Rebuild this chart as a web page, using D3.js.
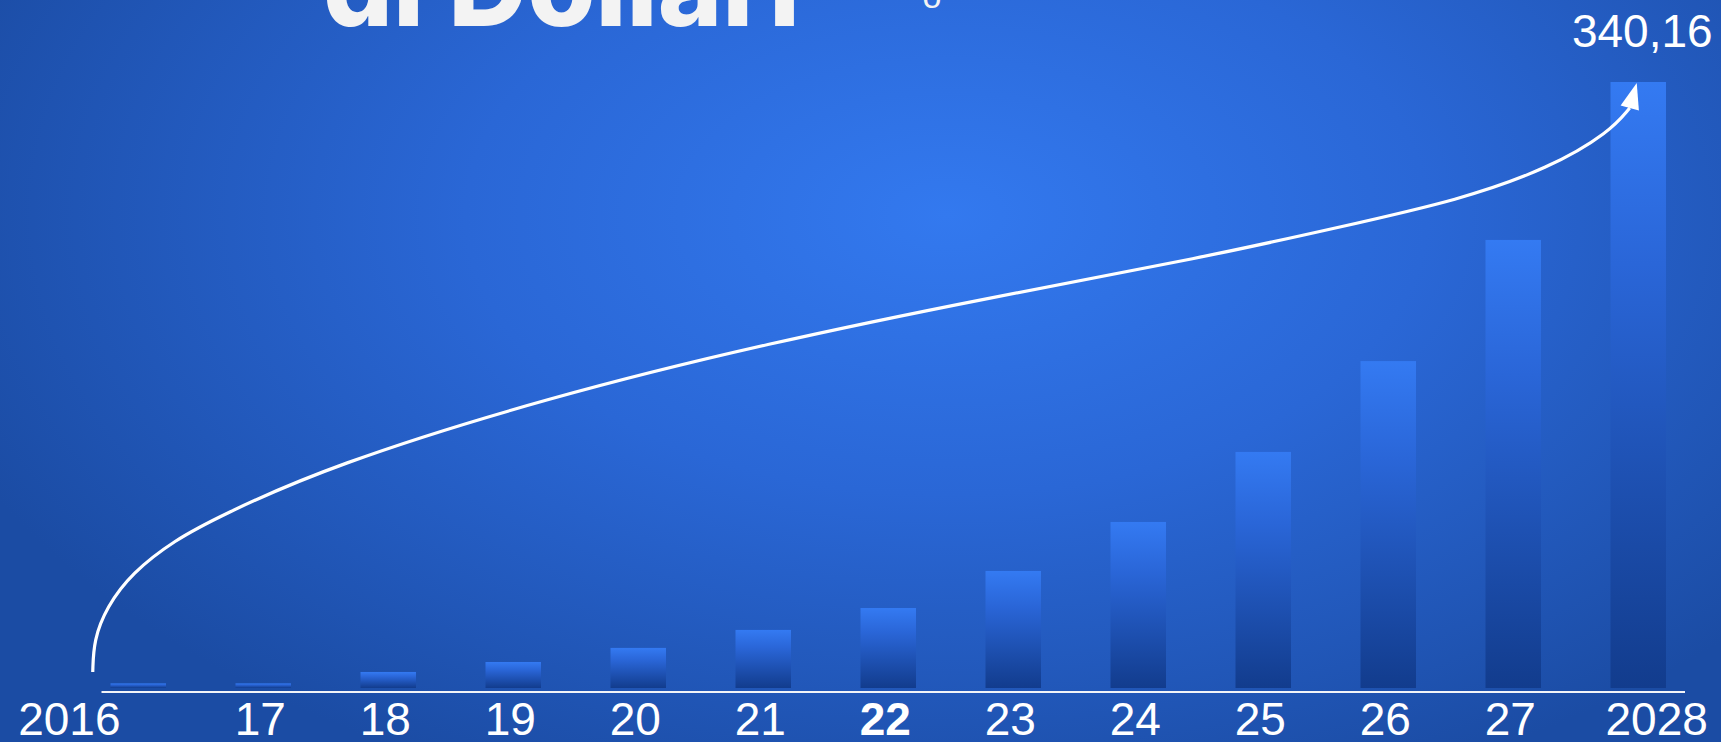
<!DOCTYPE html>
<html>
<head>
<meta charset="utf-8">
<script src="https://cdn.jsdelivr.net/npm/d3@7/dist/d3.min.js"></script>
<style>
  html, body { margin: 0; padding: 0; overflow: hidden; background: #1c4ea6; }
  svg { display: block; }
</style>
</head>
<body>
<svg id="chart" width="1721" height="742"></svg>
<script>
// ---- data ----
const years = [2016, 2017, 2018, 2019, 2020, 2021, 2022, 2023, 2024, 2025, 2026, 2027, 2028];
const values = [2.6, 2.6, 9.0, 14.6, 22.5, 32.6, 44.9, 65.7, 93.2, 132.5, 183.5, 251.5, 340.16];
const tickLabels = ["2016", "17", "18", "19", "20", "21", "22", "23", "24", "25", "26", "27", "2028"];
const boldTick = "22";
const valueLabel = "340,16";
const titleText = "di Dollari";
// decorative growth arrow, in data space [year, value]
const arrowPath = [
  [2015.636, 8.98], [2015.644, 26.94], [2015.748, 45.47], [2015.948, 64.55],
  [2016.292, 83.08], [2016.652, 96.5], [2017.524, 124.6], [2019.284, 163.3],
  [2021.036, 193.6], [2022.796, 219.0], [2024.548, 242.0], [2025.612, 258.77],
  [2026.572, 273.92], [2027.292, 291.89], [2027.772, 312.09], [2027.932, 325.57]
];
const arrowTip = [2027.988, 339.6];

// ---- setup ----
const W = 1721, H = 742;
const svg = d3.select("#chart");
const defs = svg.append("defs");

const bg = defs.append("radialGradient").attr("id", "bg")
  .attr("cx", "0.55").attr("cy", "0.29").attr("r", "0.62")
  .attr("gradientTransform", "translate(0.55,0.29) scale(1,1.35) translate(-0.55,-0.29)");
bg.append("stop").attr("offset", "0").attr("stop-color", "#3379ef");
bg.append("stop").attr("offset", "0.45").attr("stop-color", "#2a67d6");
bg.append("stop").attr("offset", "1").attr("stop-color", "#1b4ca4");

const bar = defs.append("linearGradient").attr("id", "bar")
  .attr("x1", "0").attr("y1", "0").attr("x2", "0").attr("y2", "1");
bar.append("stop").attr("offset", "0").attr("stop-color", "#347af2");
bar.append("stop").attr("offset", "0.3").attr("stop-color", "#2a66d8");
bar.append("stop").attr("offset", "1").attr("stop-color", "#123c8d");

svg.append("rect").attr("width", W).attr("height", H).attr("fill", "url(#bg)");

// title (cut off at the top)
svg.append("text")
  .attr("x", 323).attr("y", 26)
  .attr("textLength", 477).attr("lengthAdjust", "spacingAndGlyphs")
  .attr("font-family", "Inter, 'Open Sans', sans-serif")
  .attr("font-weight", 800).attr("font-size", 112)
  .attr("fill", "#f3f3f3")
  .text(titleText);
svg.append("text")
  .attr("x", 932).attr("y", 8).attr("text-anchor", "middle")
  .attr("font-family", "'Liberation Sans', Arial, sans-serif")
  .attr("font-size", 34).attr("fill", "#f3f3f3")
  .text("o");

// scales
const x = d3.scaleBand().domain(years).range([110.5, 1666]).paddingInner(0.556).paddingOuter(0);
const bw = x.bandwidth();
const xc = d3.scaleLinear().domain([2016, 2028]).range([x(2016) + bw / 2, x(2028) + bw / 2]);
const y = d3.scaleLinear().domain([0, 340.16]).range([688, 82]);

// bars
svg.append("g").selectAll("rect").data(years).join("rect")
  .attr("x", d => x(d))
  .attr("width", bw)
  .attr("y", (d, i) => y(values[i]))
  .attr("height", (d, i) => y(0) - y(values[i]))
  .attr("fill", "url(#bar)");

// baseline
svg.append("line")
  .attr("x1", x(2016) - 9).attr("x2", x(2028) + bw + 19)
  .attr("y1", 692).attr("y2", 692)
  .attr("stroke", "#f2f4f8").attr("stroke-width", 2);

// axis labels
const axis = d3.axisBottom(x).tickSize(0).tickFormat((d, i) => tickLabels[i]);
const ag = svg.append("g").attr("transform", "translate(0,735)").call(axis);
ag.select(".domain").remove();
ag.selectAll("text")
  .attr("y", 0).attr("dy", 0)
  .attr("font-family", "'Liberation Sans', Arial, sans-serif")
  .attr("font-size", 46)
  .attr("fill", "#ffffff")
  .attr("font-weight", (d, i) => tickLabels[i] === boldTick ? "bold" : "normal")
  .attr("x", -3);
ag.selectAll(".tick").filter(d => d === years[0]).select("text")
  .attr("text-anchor", "end").attr("x", -bw / 2 + 10);
ag.selectAll(".tick").filter(d => d === years[years.length - 1]).select("text")
  .attr("text-anchor", "start").attr("x", -bw / 2 - 5);

// value label
svg.append("text")
  .attr("x", xc(2028) + 4).attr("y", 47)
  .attr("text-anchor", "middle")
  .attr("font-family", "'Liberation Sans', Arial, sans-serif")
  .attr("font-size", 46).attr("fill", "#ffffff")
  .text(valueLabel);

// growth arrow
const line = d3.line().x(d => xc(d[0])).y(d => y(d[1])).curve(d3.curveBasis);
svg.append("path").attr("d", line(arrowPath))
  .attr("fill", "none").attr("stroke", "#ffffff").attr("stroke-width", 3.2)
  .attr("stroke-linecap", "butt");

const end = arrowPath[arrowPath.length - 1];
const bx = xc(end[0]), by = y(end[1]);
const tx = xc(arrowTip[0]), ty = y(arrowTip[1]);
const dx = tx - bx, dy = ty - by, len = Math.hypot(dx, dy);
const nx = -dy / len, ny = dx / len, hw = 9.5;
svg.append("path")
  .attr("d", `M${tx},${ty}L${bx + nx * hw},${by + ny * hw}L${bx - nx * hw},${by - ny * hw}Z`)
  .attr("fill", "#ffffff");
</script>
</body>
</html>
